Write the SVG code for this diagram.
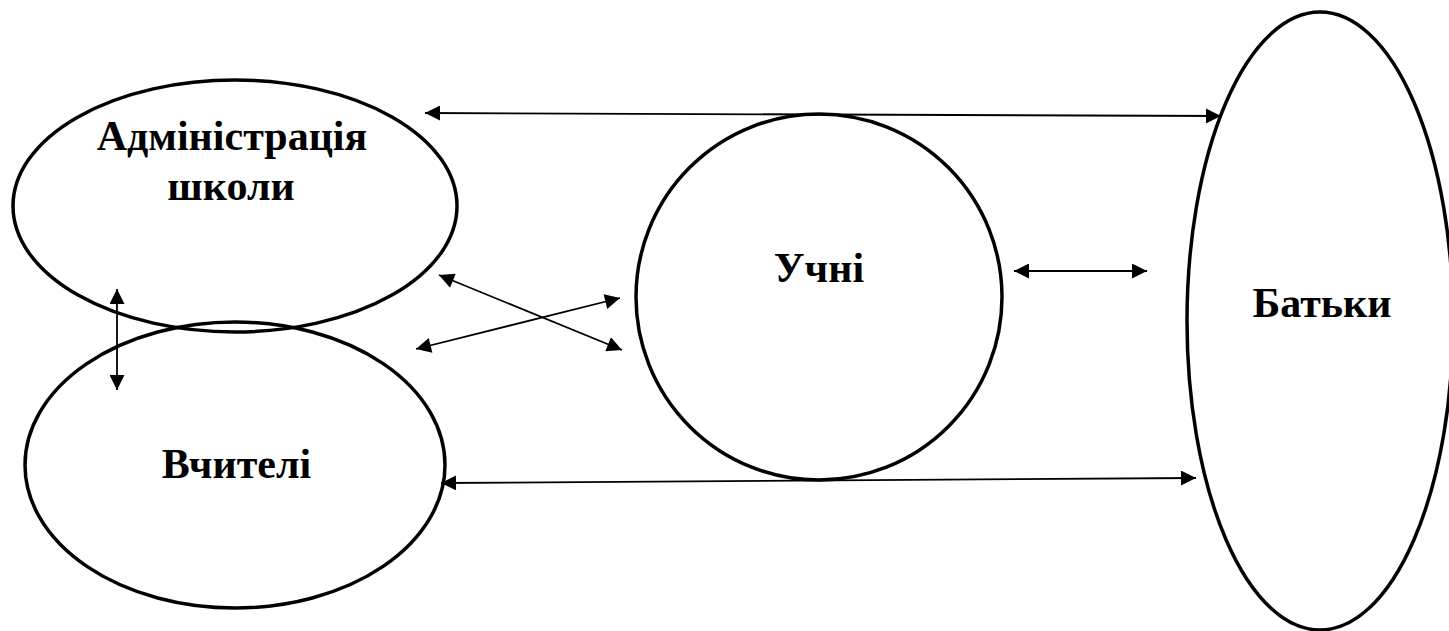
<svg xmlns="http://www.w3.org/2000/svg" width="1449" height="631" viewBox="0 0 1449 631">
<style>
.node{fill:none;stroke:#000;stroke-width:3.5}
.lbl{font-family:"Liberation Serif","Times New Roman",serif;font-weight:bold;font-size:42px;fill:#000;text-anchor:middle}
.conn{stroke:#000;stroke-width:1.8;fill:none;marker-start:url(#ah);marker-end:url(#ah)}
</style>
<defs>
<marker id="ah" viewBox="0 0 10 10" refX="10" refY="5" markerUnits="userSpaceOnUse" markerWidth="16" markerHeight="15" orient="auto-start-reverse">
<path d="M0,0 L10,5 L0,10 Z" fill="#000"/>
</marker>
</defs>
<rect width="1449" height="631" fill="#fff"/>
<g id="admin">
<ellipse class="node" cx="235" cy="206" rx="222" ry="126"/>
<text class="lbl" x="232" y="150">Адміністрація</text>
<text class="lbl" x="231" y="200">школи</text>
</g>
<g id="teachers">
<ellipse class="node" cx="235" cy="465" rx="210" ry="143"/>
<text class="lbl" x="236.5" y="478">Вчителі</text>
</g>
<g id="students">
<circle class="node" cx="819" cy="297" r="183"/>
<text class="lbl" x="819" y="282">Учні</text>
</g>
<g id="parents">
<ellipse class="node" cx="1320" cy="321" rx="133" ry="309"/>
<text class="lbl" x="1322" y="317">Батьки</text>
</g>
<g id="connectors">
<line class="conn" x1="425" y1="113" x2="1221" y2="116"/>
<line class="conn" x1="441" y1="483" x2="1196" y2="478"/>
<line class="conn" x1="117" y1="289" x2="117" y2="390"/>
<line class="conn" x1="439" y1="275" x2="622" y2="350"/>
<line class="conn" x1="416" y1="349" x2="620" y2="298"/>
<line class="conn" x1="1014" y1="271" x2="1147" y2="271"/>
</g>
</svg>
